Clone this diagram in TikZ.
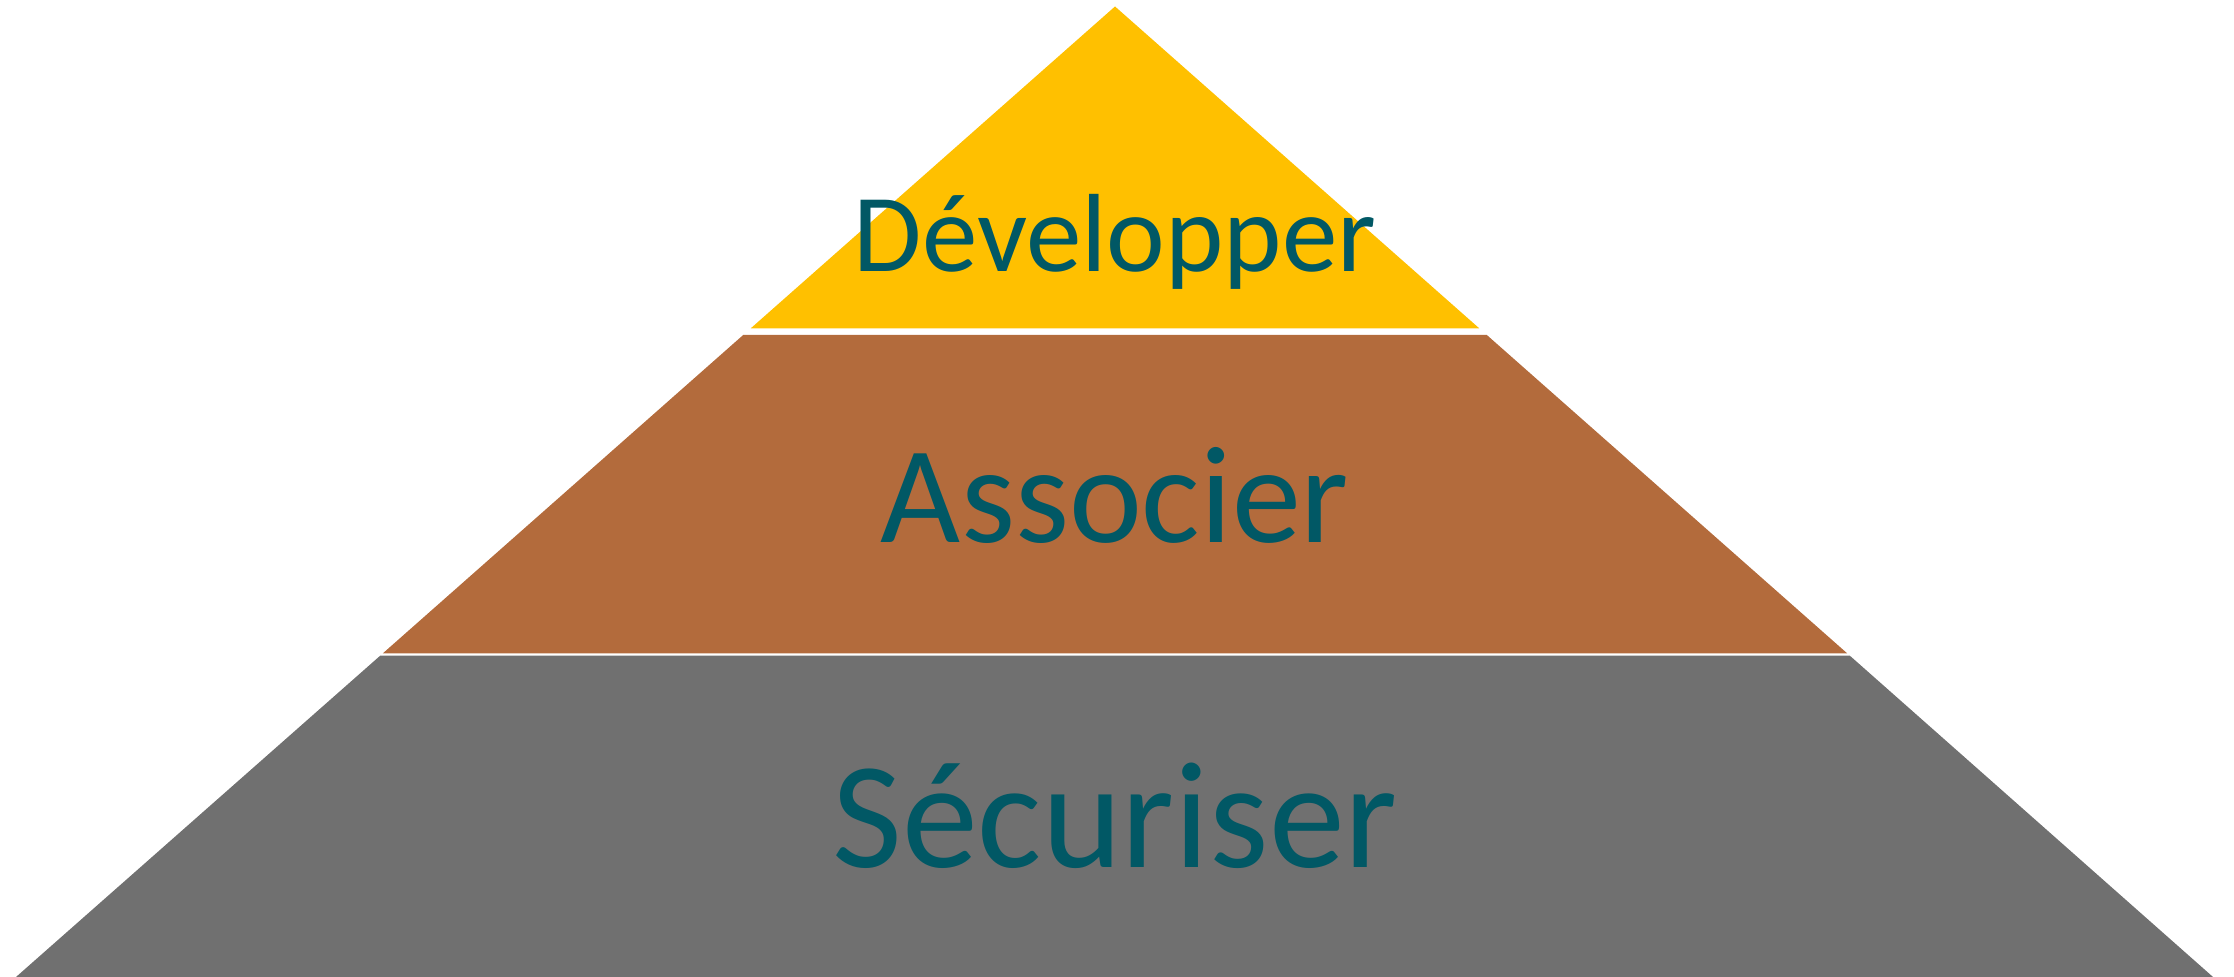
\documentclass[tikz,border=0pt]{standalone}
\usepackage{fontspec}
\setmainfont{Carlito}
\usepackage{xcolor}
\usepackage{tikz}
\definecolor{pyryellow}{HTML}{FFC000}
\definecolor{pyrbrown}{HTML}{B36B3C}
\definecolor{pyrgray}{HTML}{707070}
\definecolor{pyrtext}{HTML}{015865}

\begin{document}
\begin{tikzpicture}[
  x=0.01cm, y=-0.01cm,
  lbl/.style={text=pyrtext, anchor=base, inner sep=0pt},
]
  \useasboundingbox (0,0) rectangle (2234,977);

  % three layers of the pyramid, split by thin white gaps
  \fill[pyryellow] (1115,6.5) -- (1479.2,328.3) -- (750.8,328.3) -- cycle;
  \fill[pyrbrown] (743.2,335) -- (1486.8,335) -- (1847.1,653.3) -- (382.9,653.3) -- cycle;
  \fill[pyrgray] (380.2,655.7) -- (1849.8,655.7) -- (2213,977) -- (16,977) -- cycle;

  \node[lbl, font=\fontsize{31.6pt}{38pt}\selectfont] (develop) at (1115,272) {Développer};
  \node[lbl, font=\fontsize{39.3pt}{47pt}\selectfont] (associate) at (1115,543) {Associer};
  \node[lbl, font=\fontsize{43.2pt}{52pt}\selectfont] (secure) at (1115,868) {Sécuriser};
\end{tikzpicture}
\end{document}
